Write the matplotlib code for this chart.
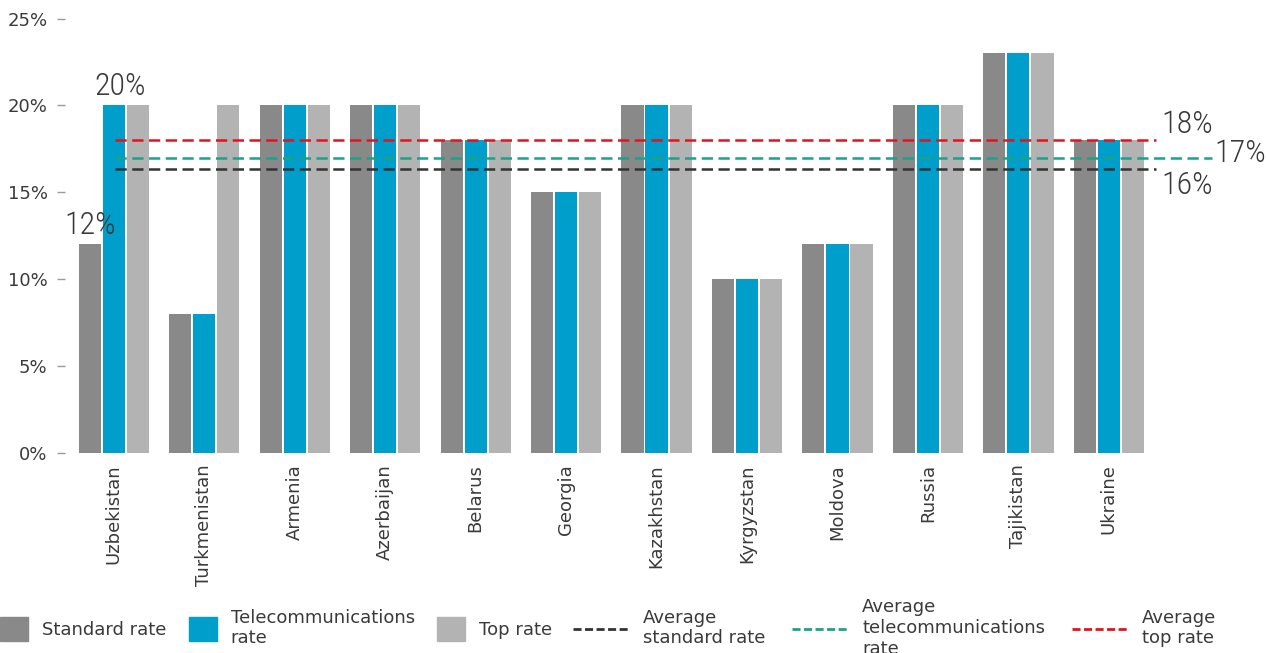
import matplotlib
matplotlib.use("Agg")
import matplotlib.pyplot as plt
import numpy as np
from matplotlib.patches import Patch
from matplotlib.lines import Line2D

countries = ["Uzbekistan", "Turkmenistan", "Armenia", "Azerbaijan", "Belarus", "Georgia",
             "Kazakhstan", "Kyrgyzstan", "Moldova", "Russia", "Tajikistan", "Ukraine"]
standard_rate = [12, 8, 20, 20, 18, 15, 20, 10, 12, 20, 23, 18]
telecom_rate = [20, 8, 20, 20, 18, 15, 20, 10, 12, 20, 23, 18]
top_rate = [20, 20, 20, 20, 18, 15, 20, 10, 12, 20, 23, 18]
y_ticks = [0, 5, 10, 15, 20, 25]

C_STD = "#898989"
C_TEL = "#009ecb"
C_TOP = "#b3b3b3"
C_AVG_STD = "#333333"
C_AVG_TEL = "#1aa386"
C_AVG_TOP = "#e3131e"
TXT = "#3a3a3a"

plt.rcParams["font.family"] = ["DejaVu Sans"]

fig = plt.figure(figsize=(12.66, 6.53), dpi=100)
ax = fig.add_axes([65 / 1266, (653 - 453) / 653, 1080 / 1266, (453 - 18.5) / 653])

x = np.arange(len(countries))
w, step = 0.245, 0.266
ax.bar(x - step, standard_rate, w, color=C_STD, zorder=2)
ax.bar(x, telecom_rate, w, color=C_TEL, zorder=2)
ax.bar(x + step, top_rate, w, color=C_TOP, zorder=2)

avg_std = np.mean(standard_rate)
avg_tel = np.mean(telecom_rate)
avg_top = np.mean(top_rate)

dash = dict(linestyle=(0, (4.5, 2.2)), linewidth=1.8, zorder=3, clip_on=False)
ax.plot([0.01, 11.52], [avg_top, avg_top], color=C_AVG_TOP, **dash)
ax.plot([0.01, 12.14], [avg_tel, avg_tel], color=C_AVG_TEL, **dash)
ax.plot([0.01, 11.52], [avg_std, avg_std], color=C_AVG_STD, **dash)

num = dict(family=["Roboto Condensed", "DejaVu Sans"], fontstretch="condensed",
           fontweight="light", fontsize=23, color=TXT, annotation_clip=False)
ax.annotate(f"{avg_top:.0f}%", (11.52, avg_top), xytext=(4, 1), textcoords="offset points",
            ha="left", va="bottom", **num)
ax.annotate(f"{avg_tel:.0f}%", (12.14, avg_tel), xytext=(2, 3), textcoords="offset points",
            ha="left", va="center", **num)
ax.annotate(f"{avg_std:.0f}%", (11.52, avg_std), xytext=(4, -1), textcoords="offset points",
            ha="left", va="top", **num)

# value callouts on the first group
ax.annotate(f"{standard_rate[0]}%", (x[0] - step, standard_rate[0]), xytext=(0, 3),
            textcoords="offset points", ha="center", va="bottom", **num)
ax.annotate(f"{telecom_rate[0]}%", (x[0] + 0.07, telecom_rate[0]), xytext=(0, 3),
            textcoords="offset points", ha="center", va="bottom", **num)

ax.set_xlim(-0.54, 11.40)
ax.set_ylim(0, 25)
ax.set_yticks(y_ticks)
ax.set_yticklabels([f"{v}%" for v in y_ticks], fontsize=13, color=TXT)
ax.set_xticks(x)
ax.set_xticklabels(countries, rotation=90, fontsize=13, color=TXT)
ax.tick_params(axis="y", length=6, width=1, color="#9a9a9a", pad=6.5)
ax.tick_params(axis="x", length=0, pad=8)
for s in ax.spines.values():
    s.set_visible(False)

# legend: square swatches for the bars, longer dashed keys for the averages
leg_kw = dict(loc="center left", frameon=False, fontsize=13, handletextpad=0.77,
              borderaxespad=0, borderpad=0, labelspacing=0)
bar_handles = [Patch(color=C_STD), Patch(color=C_TEL), Patch(color=C_TOP)]
bar_labels = ["Standard rate", "Telecommunications\nrate", "Top rate"]
leg1 = fig.legend(bar_handles, bar_labels, bbox_to_anchor=(0.0, 25 / 653), ncol=3,
                  handlelength=1.55, handleheight=1.66, columnspacing=1.25, **leg_kw)

key = dict(linestyle=(0, (2.9, 1.25)), linewidth=2)
avg_handles = [Line2D([], [], color=C_AVG_STD, **key),
               Line2D([], [], color=C_AVG_TEL, **key),
               Line2D([], [], color=C_AVG_TOP, **key)]
avg_labels = ["Average\nstandard rate", "Average\ntelecommunications\nrate", "Average\ntop rate"]
leg2 = fig.legend(avg_handles, avg_labels, bbox_to_anchor=(573 / 1266, 25 / 653), ncol=3,
                  handlelength=3.1, columnspacing=1.5, **leg_kw)
for leg in (leg1, leg2):
    for t in leg.get_texts():
        t.set_color(TXT)

fig.savefig("out.png", dpi=100)
